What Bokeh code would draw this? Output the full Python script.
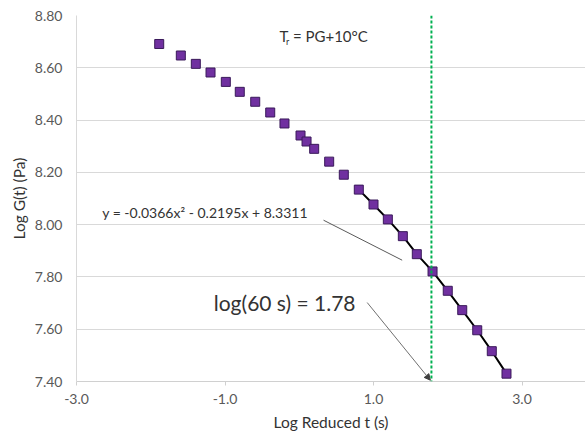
from bokeh.plotting import figure
from bokeh.models import Range1d, Label, Arrow, NormalHead, FixedTicker, Span, NumeralTickFormatter
from bokeh.embed import file_html
from bokeh.resources import INLINE

# Data
log_t = [-1.886, -1.595, -1.393, -1.195, -0.989, -0.801, -0.593, -0.391, -0.199,
         0.017, 0.098, 0.201, 0.403, 0.600, 0.802, 1.000, 1.193, 1.395, 1.583,
         1.795, 2.000, 2.195, 2.397, 2.593, 2.791]
log_g = [8.691, 8.647, 8.615, 8.582, 8.546, 8.508, 8.470, 8.429, 8.387,
         8.341, 8.318, 8.290, 8.241, 8.191, 8.134, 8.077, 8.020, 7.956, 7.887,
         7.821, 7.747, 7.673, 7.596, 7.516, 7.430]
fit_start = 14  # trend line drawn over the last points
x_ticks = [-3.0, -1.0, 1.0, 3.0]
y_ticks = [7.40, 7.60, 7.80, 8.00, 8.20, 8.40, 8.60, 8.80]
log60 = 1.78
equation = "y = -0.0366x\u00b2 - 0.2195x + 8.3311"
log_label = "log(60 s) = 1.78"

FONT = "Lato"
TXT = "#333333"

p = figure(width=585, height=434, output_backend="svg", toolbar_location=None,
           x_range=Range1d(-3.0, 3.855), y_range=Range1d(7.40, 8.80),
           min_border_left=76, min_border_right=0, min_border_top=15, min_border_bottom=53)
p.outline_line_color = None
p.background_fill_color = "white"
p.border_fill_color = "white"

p.xgrid.grid_line_color = None
p.ygrid.grid_line_color = "#D9D9D9"
p.ygrid.grid_line_width = 1

p.xaxis.ticker = FixedTicker(ticks=x_ticks)
p.yaxis.ticker = FixedTicker(ticks=y_ticks)
p.xaxis.formatter = NumeralTickFormatter(format="0.0")
p.yaxis.formatter = NumeralTickFormatter(format="0.00")
p.xaxis.minor_tick_line_color = None
p.yaxis.minor_tick_line_color = None
p.xaxis.major_tick_in = 0
p.xaxis.major_tick_out = 4
p.xaxis.major_tick_line_color = "#D0D0D0"
p.yaxis.major_tick_line_color = None
p.yaxis.major_tick_out = 0
p.yaxis.major_tick_in = 0
p.xaxis.axis_line_color = "#D0D0D0"
p.yaxis.axis_line_color = "#D9D9D9"
for ax in (p.xaxis, p.yaxis):
    ax.major_label_text_font = FONT
    ax.major_label_text_font_size = "14px"
    ax.major_label_text_color = "#595959"
    ax.axis_label_text_font = FONT
    ax.axis_label_text_font_size = "15.5px"
    ax.axis_label_text_font_style = "normal"
    ax.axis_label_text_color = TXT
p.xaxis.major_label_standoff = 8
p.yaxis.major_label_standoff = 14
p.xaxis.axis_label = "Log Reduced t (s)"
p.yaxis.axis_label = "Log G(t) (Pa)"
p.xaxis.axis_label_standoff = 6
p.yaxis.axis_label_standoff = 4

# vertical dashed line at log(60 s)
p.add_layout(Span(location=log60, dimension="height", line_color="#00B050",
                  line_width=2, line_dash="3 2"))

# trend line
p.line(log_t[fit_start:], log_g[fit_start:], line_color="black", line_width=2)

# markers
p.scatter(log_t, log_g, marker="square", size=9, fill_color="#7030A0",
          line_color="#3A1A5A", line_width=1)

# equation leader line
p.line([0.327, 1.386], [8.017, 7.864], line_color="#595959", line_width=1)

# arrow to the log(60) intercept
p.add_layout(Arrow(end=NormalHead(size=6, fill_color="#404040", line_color="#404040"),
                   x_start=0.915, y_start=7.702, x_end=1.765, y_end=7.405,
                   line_color="#707070", line_width=1))

p.add_layout(Label(x=-2.654, y=8.046, text=equation, text_font=FONT,
                   text_font_size="14px", text_color=TXT, text_baseline="middle"))
p.add_layout(Label(x=-1.151, y=7.702, text=log_label, text_font=FONT,
                   text_font_size="21px", text_color=TXT, text_baseline="middle"))
p.add_layout(Label(x=-0.265, y=8.722, text="T", text_font=FONT,
                   text_font_size="15px", text_color=TXT, text_baseline="middle"))
p.add_layout(Label(x=-0.180, y=8.700, text="r", text_font=FONT,
                   text_font_size="9px", text_color=TXT, text_baseline="middle"))
p.add_layout(Label(x=-0.085, y=8.722, text="= PG+10\u00b0C", text_font=FONT,
                   text_font_size="15px", text_color=TXT, text_baseline="middle"))

open("out.html", "w").write(file_html(p, INLINE))
